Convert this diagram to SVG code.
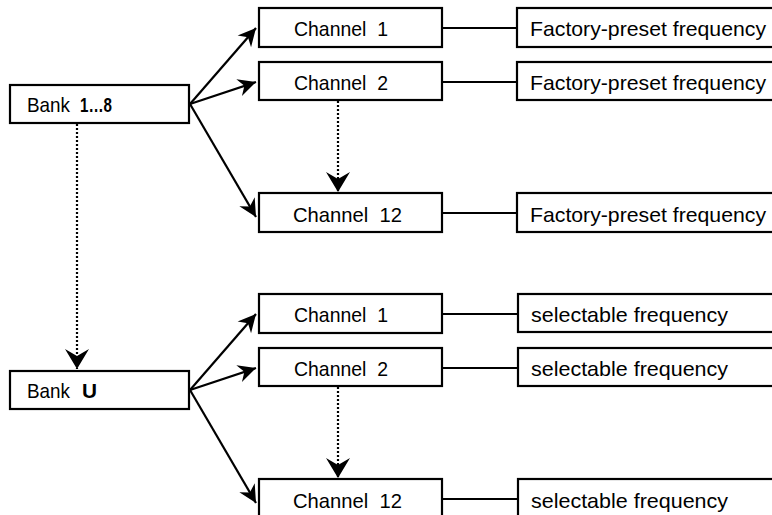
<svg xmlns="http://www.w3.org/2000/svg" width="772" height="515" viewBox="0 0 772 515">
<style>
.box{fill:#fff;stroke:#000;stroke-width:2.2}
.t{font-family:"Liberation Sans","DejaVu Sans",sans-serif;font-size:21px;fill:#000}
.b{font-weight:bold}
.ln{stroke:#000;stroke-width:2.2;fill:none}
.dot{stroke:#000;stroke-width:2.2;fill:none;stroke-dasharray:2 2}
</style>
<defs>
<marker id="ah" markerUnits="userSpaceOnUse" markerWidth="20" markerHeight="20" viewBox="-17 -9 18 18" refX="0" refY="0" orient="auto">
<path d="M0,0 L-16,-8 L-11,0 L-16,8 Z" fill="#000"/>
</marker>
<marker id="ahd" markerUnits="userSpaceOnUse" markerWidth="26" markerHeight="26" viewBox="-21 -13 22 26" refX="0" refY="0" orient="auto">
<path d="M0,0 L-20,-12 L-13,0 L-20,12 Z" fill="#000"/>
</marker>
</defs>

<g id="connectors">
<line class="ln" x1="190" y1="104" x2="256" y2="28" marker-end="url(#ah)"/>
<line class="ln" x1="190" y1="104" x2="256" y2="82" marker-end="url(#ah)"/>
<line class="ln" x1="190" y1="104" x2="256" y2="217" marker-end="url(#ah)"/>
<line class="ln" x1="190" y1="390" x2="256" y2="314" marker-end="url(#ah)"/>
<line class="ln" x1="190" y1="390" x2="256" y2="368" marker-end="url(#ah)"/>
<line class="ln" x1="190" y1="390" x2="256" y2="503" marker-end="url(#ah)"/>
<line class="dot" x1="77" y1="124" x2="77" y2="369" marker-end="url(#ahd)"/>
<line class="dot" x1="338" y1="101" x2="338" y2="192" marker-end="url(#ahd)"/>
<line class="dot" x1="338" y1="387" x2="338" y2="478" marker-end="url(#ahd)"/>
<line class="ln" x1="442" y1="28" x2="517" y2="28"/>
<line class="ln" x1="442" y1="82" x2="517" y2="82"/>
<line class="ln" x1="442" y1="213" x2="517" y2="213"/>
<line class="ln" x1="442" y1="314" x2="517" y2="314"/>
<line class="ln" x1="442" y1="368" x2="517" y2="368"/>
<line class="ln" x1="442" y1="499" x2="517" y2="499"/>
</g>

<g id="bank18">
<rect class="box" x="10" y="85" width="179" height="38"/>
<text class="t" y="112"><tspan x="27" textLength="43" lengthAdjust="spacingAndGlyphs">Bank</tspan><tspan class="b" x="80" textLength="32" lengthAdjust="spacingAndGlyphs">1…8</tspan></text>
</g>
<g id="bankU">
<rect class="box" x="10" y="371" width="179" height="38"/>
<text class="t" y="398"><tspan x="27" textLength="43" lengthAdjust="spacingAndGlyphs">Bank</tspan><tspan class="b" x="82" textLength="15" lengthAdjust="spacingAndGlyphs">U</tspan></text>
</g>

<g id="ch1a"><rect class="box" x="259" y="8" width="183" height="39"/><text class="t" x="294" y="36" textLength="94" lengthAdjust="spacingAndGlyphs" xml:space="preserve">Channel  1</text></g>
<g id="ch2a"><rect class="box" x="259" y="62" width="183" height="38"/><text class="t" x="294" y="90" textLength="94" lengthAdjust="spacingAndGlyphs" xml:space="preserve">Channel  2</text></g>
<g id="ch12a"><rect class="box" x="259" y="193" width="183" height="39"/><text class="t" x="293" y="222" textLength="109" lengthAdjust="spacingAndGlyphs" xml:space="preserve">Channel  12</text></g>

<g id="fa1"><rect class="box" x="517" y="8" width="270" height="39"/><text class="t" x="530" y="36" textLength="236" lengthAdjust="spacingAndGlyphs">Factory-preset frequency</text></g>
<g id="fa2"><rect class="box" x="517" y="62" width="270" height="38"/><text class="t" x="530" y="90" textLength="236" lengthAdjust="spacingAndGlyphs">Factory-preset frequency</text></g>
<g id="fa12"><rect class="box" x="517" y="193" width="270" height="39"/><text class="t" x="530" y="222" textLength="236" lengthAdjust="spacingAndGlyphs">Factory-preset frequency</text></g>

<g id="ch1b"><rect class="box" x="259" y="294" width="183" height="39"/><text class="t" x="294" y="322" textLength="94" lengthAdjust="spacingAndGlyphs" xml:space="preserve">Channel  1</text></g>
<g id="ch2b"><rect class="box" x="259" y="348" width="183" height="38"/><text class="t" x="294" y="376" textLength="94" lengthAdjust="spacingAndGlyphs" xml:space="preserve">Channel  2</text></g>
<g id="ch12b"><rect class="box" x="259" y="479" width="183" height="39"/><text class="t" x="293" y="508" textLength="109" lengthAdjust="spacingAndGlyphs" xml:space="preserve">Channel  12</text></g>

<g id="fb1"><rect class="box" x="518" y="294" width="270" height="38"/><text class="t" x="531" y="322" textLength="197" lengthAdjust="spacingAndGlyphs">selectable frequency</text></g>
<g id="fb2"><rect class="box" x="518" y="348" width="270" height="38"/><text class="t" x="531" y="376" textLength="197" lengthAdjust="spacingAndGlyphs">selectable frequency</text></g>
<g id="fb12"><rect class="box" x="518" y="479" width="270" height="39"/><text class="t" x="531" y="508" textLength="197" lengthAdjust="spacingAndGlyphs">selectable frequency</text></g>
</svg>
